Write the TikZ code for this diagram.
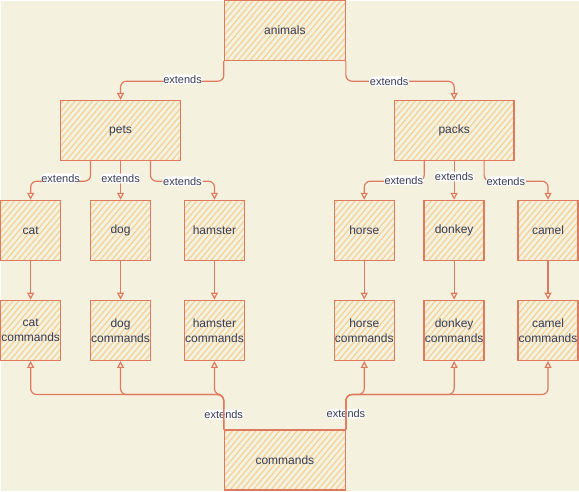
\documentclass[tikz,border=0pt]{standalone}
\usepackage{fontspec}
\setmainfont{Liberation Sans}
\usetikzlibrary{arrows.meta,positioning,patterns.meta}
\definecolor{bgc}{HTML}{F4F1DE}
\definecolor{hatch}{HTML}{F2CC8F}
\definecolor{edge}{HTML}{E07A5F}
\definecolor{ink}{HTML}{393C56}

\begin{document}
\begin{tikzpicture}[
  x=1pt, y=-1pt,
  box/.style={draw=edge, line width=1.4pt, inner sep=0pt,
              pattern={Lines[angle=50,distance=4.5pt,line width=1.2pt]},
              pattern color=hatch!85!bgc, text=ink, align=center,
              font=\fontsize{12}{15}\selectfont},
  wide/.style={box, minimum width=121pt, minimum height=60pt},
  small/.style={box, minimum width=60pt, minimum height=60pt},
  lbl/.style={fill=white, inner sep=0.8pt, text=ink,
              font=\fontsize{11}{13}\selectfont},
  arr/.style={-{Triangle[open, length=7pt, width=7pt]}, line width=1.2pt,
              draw=edge, rounded corners=6pt}
]
\fill[bgc] (0,0) rectangle (579,491);
% top levels
\node[wide] (animals) at (284.5,30) {animals};
\node[wide, minimum width=120pt] (pets) at (120,130) {pets};
\node[wide, minimum width=120pt] (packs) at (454,130) {packs};
% animal kinds
\node[small] (cat) at (30,230) {cat};
\node[small] (dog) at (120,230) {dog};
\node[small] (hamster) at (214,230) {hamster};
\node[small] (horse) at (364,230) {horse};
\node[small] (donkey) at (454,230) {donkey};
\node[small] (camel) at (548,230) {camel};
% commands per kind
\node[small] (catcmd) at (30,330) {cat\\commands};
\node[small] (dogcmd) at (120,330) {dog\\commands};
\node[small] (hamstercmd) at (214,330) {hamster\\commands};
\node[small] (horsecmd) at (364,330) {horse\\commands};
\node[small] (donkeycmd) at (454,330) {donkey\\commands};
\node[small] (camelcmd) at (548,330) {camel\\commands};
\node[wide] (commands) at (284.5,460) {commands};

\draw[arr] (animals.south west) -- ++(0,20) -| node[lbl, pos=0.2, yshift=2pt] {extends} (pets.north);
\draw[arr] (animals.south east) -- ++(0,20) -| node[lbl, pos=0.2] {extends} (packs.north);

\draw[arr] ([xshift=-30pt]pets.south) -- ++(0,20) -| node[lbl, pos=0.25, yshift=3pt] {extends} (cat.north);
\draw[arr] (pets.south) -- node[lbl, yshift=2pt] {extends} (dog.north);
\draw[arr] ([xshift=30pt]pets.south) -- ++(0,20) -| node[lbl, pos=0.25] {extends} (hamster.north);

\draw[arr] ([xshift=-30pt]packs.south) -- ++(0,20) -| node[lbl, pos=0.17, yshift=1pt] {extends} (horse.north);
\draw[arr] (packs.south) -- node[lbl, yshift=4pt] {extends} (donkey.north);
\draw[arr] ([xshift=30pt]packs.south) -- ++(0,20) -| node[lbl, pos=0.17] {extends} (camel.north);

\foreach \k in {cat,dog,hamster,horse,donkey,camel}
  \draw[arr] (\k.south) -- (\k cmd.north);

\draw[arr] (commands.north west) -- node[lbl, pos=0.43] {extends} ++(0,-35) -| (catcmd.south);
\draw[arr] (commands.north west) -- ++(0,-35) -| (dogcmd.south);
\draw[arr] (commands.north west) -- ++(0,-35) -| (hamstercmd.south);
\draw[arr] (commands.north east) -- node[lbl, pos=0.45] {extends} ++(0,-35) -| (horsecmd.south);
\draw[arr] (commands.north east) -- ++(0,-35) -| (donkeycmd.south);
\draw[arr] (commands.north east) -- ++(0,-35) -| (camelcmd.south);
\end{tikzpicture}
\end{document}
